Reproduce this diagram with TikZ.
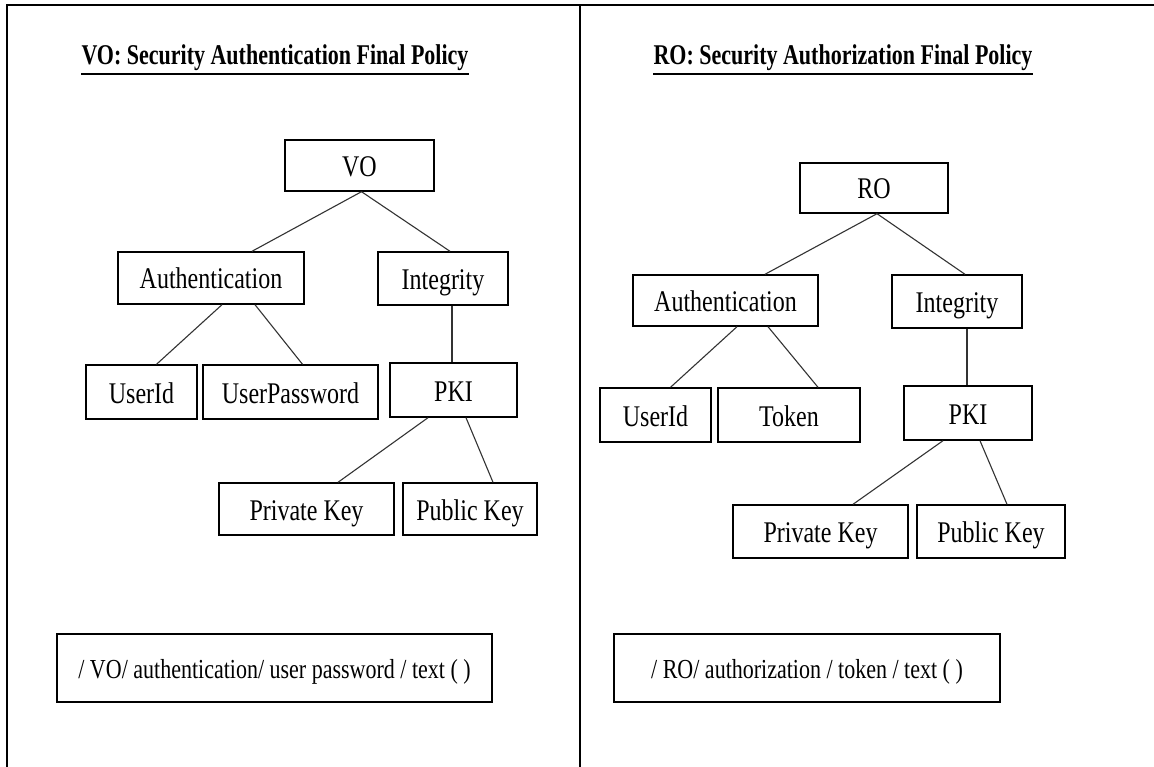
\documentclass[tikz,border=0pt]{standalone}
\usepackage{graphicx}
\usepackage{fontspec}
\setmainfont{Liberation Serif}
\newcommand\vstretch[1]{\scalebox{1}[1.25]{#1}}
\begin{document}
\begin{tikzpicture}[x=1pt,y=-1pt,
  box/.style={draw=black,line width=1.4pt,inner sep=0pt,font=\fontsize{24}{28}\selectfont,text height=24pt,text depth=2pt},
  pathbox/.style={draw=black,line width=1.4pt,inner sep=0pt,font=\fontsize{22}{26}\selectfont,minimum height=68pt,text height=22pt,text depth=2pt},
  link/.style={draw=black!80,line width=1.1pt},
  frame/.style={draw=black,line width=2pt},
  uline/.style={draw=black,line width=2pt},
  titletext/.style={inner sep=0pt,anchor=base,font=\fontsize{22}{26}\selectfont\bfseries}]
\useasboundingbox (0,0) rectangle (1154,767);
\fill[white] (0,0) rectangle (1154,767);
% frame
\coordinate (ftl) at (7,5);
\coordinate (ftr) at (1154,5);
\coordinate (fbl) at (7,767);
\coordinate (dtop) at (580,5);
\coordinate (dbot) at (580,767);
\draw[frame] (fbl) -- (ftl) -- (ftr);
\draw[frame] (dtop) -- (dbot);
% titles
\node[titletext] (tL) at (275,65) {\scalebox{1}[1.3]{VO: Security Authentication Final Policy}};
\node[titletext] (tR) at (843,65) {\scalebox{1}[1.3]{RO: Security Authorization Final Policy}};
\draw[uline] ([yshift=-9pt]tL.base west) -- ([yshift=-9pt]tL.base east);
\draw[uline] ([yshift=-9pt]tR.base west) -- ([yshift=-9pt]tR.base east);
% left tree
\node[box,minimum width=149pt,minimum height=51pt] (vo) at (359.5,165.5) {\vstretch{VO}};
\node[box,minimum width=186pt,minimum height=52pt] (authL) at (211,278) {\vstretch{Authentication}};
\node[box,minimum width=130pt,minimum height=53pt] (integL) at (443,278.5) {\vstretch{Integrity}};
\node[box,minimum width=111pt,minimum height=54pt] (uidL) at (141.5,392) {\vstretch{UserId}};
\node[box,minimum width=175pt,minimum height=54pt] (upwL) at (290.5,392) {\vstretch{UserPassword}};
\node[box,minimum width=127pt,minimum height=54pt] (pkiL) at (453.5,390) {\vstretch{PKI}};
\node[box,minimum width=175pt,minimum height=52pt] (privL) at (306.5,509) {\vstretch{Private Key}};
\node[box,minimum width=134pt,minimum height=52pt] (pubL) at (470,509) {\vstretch{Public Key}};
\draw[link] ([xshift=2pt]vo.south) -- ([xshift=41pt]authL.north);
\draw[link] ([xshift=2pt]vo.south) -- ([xshift=7pt]integL.north);
\draw[link] ([xshift=11pt]authL.south) -- ([xshift=15pt]uidL.north);
\draw[link] ([xshift=44pt]authL.south) -- ([xshift=12pt]upwL.north);
\draw[link] ([xshift=9pt]integL.south) -- ([xshift=-1.5pt]pkiL.north);
\draw[link] ([xshift=-25.5pt]pkiL.south) -- ([xshift=31.5pt]privL.north);
\draw[link] ([xshift=12.5pt]pkiL.south) -- ([xshift=23pt]pubL.north);
% right tree
\node[box,minimum width=148pt,minimum height=50pt] (ro) at (874,188) {\vstretch{RO}};
\node[box,minimum width=185pt,minimum height=51pt] (authR) at (725.5,300.5) {\vstretch{Authentication}};
\node[box,minimum width=130pt,minimum height=53pt] (integR) at (957,301.5) {\vstretch{Integrity}};
\node[box,minimum width=111pt,minimum height=54pt] (uidR) at (655.5,415) {\vstretch{UserId}};
\node[box,minimum width=142pt,minimum height=54pt] (tokR) at (789,415) {\vstretch{Token}};
\node[box,minimum width=128pt,minimum height=54pt] (pkiR) at (968,413) {\vstretch{PKI}};
\node[box,minimum width=175pt,minimum height=53pt] (privR) at (820.5,531.5) {\vstretch{Private Key}};
\node[box,minimum width=148pt,minimum height=53pt] (pubR) at (991,531.5) {\vstretch{Public Key}};
\draw[link] ([xshift=3pt]ro.south) -- ([xshift=39.5pt]authR.north);
\draw[link] ([xshift=3pt]ro.south) -- ([xshift=8pt]integR.north);
\draw[link] ([xshift=11.5pt]authR.south) -- ([xshift=15pt]uidR.north);
\draw[link] ([xshift=42.5pt]authR.south) -- ([xshift=29pt]tokR.north);
\draw[link] ([xshift=10pt]integR.south) -- ([xshift=-1pt]pkiR.north);
\draw[link] ([xshift=-25pt]pkiR.south) -- ([xshift=32.5pt]privR.north);
\draw[link] ([xshift=12pt]pkiR.south) -- ([xshift=16pt]pubR.north);
% bottom path boxes
\node[pathbox,minimum width=435pt] (pathL) at (274.5,668) {\vstretch{/ VO/ authentication/ user password / text ( )}};
\node[pathbox,minimum width=386pt] (pathR) at (807,668) {\vstretch{/ RO/ authorization / token / text ( )}};
\end{tikzpicture}
\end{document}
